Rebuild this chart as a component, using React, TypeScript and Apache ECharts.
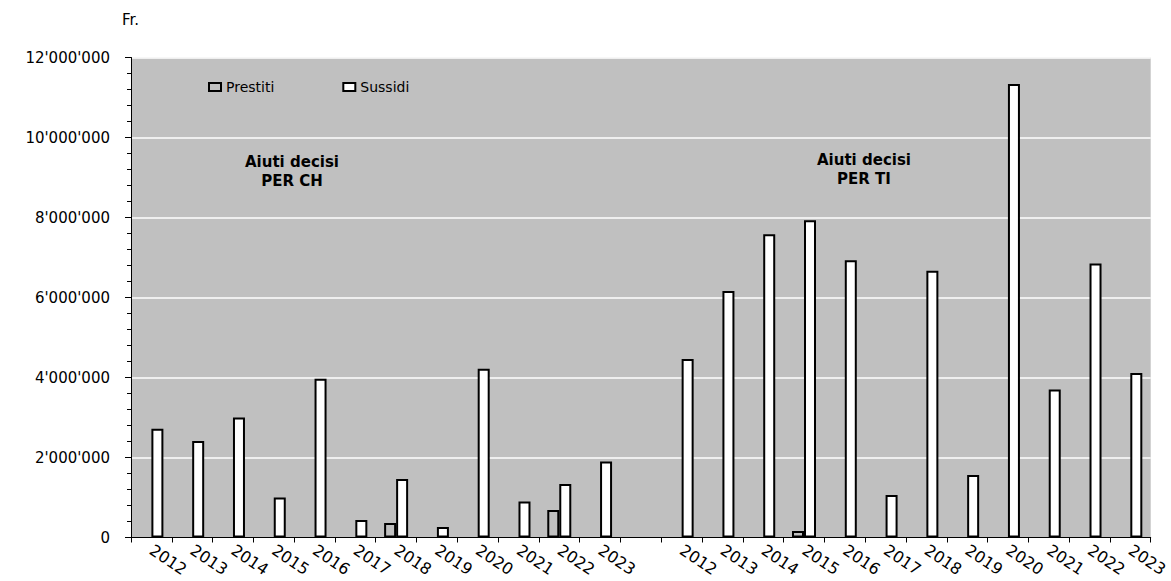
import React, { useEffect, useRef } from "react";
import * as echarts from "echarts";

const years = ["2012", "2013", "2014", "2015", "2016", "2017", "2018", "2019", "2020", "2021", "2022", "2023"];
const gapLabel = [""];
const prestitiCH = [null, null, null, null, null, null, 360000, null, null, null, 690000, null];
const sussidiCH = [2720000, 2410000, 3000000, 1000000, 3970000, 440000, 1460000, 260000, 4220000, 900000, 1340000, 1900000];
const prestitiTI = [null, null, null, 160000, null, null, null, null, null, null, null, null];
const sussidiTI = [4460000, 6160000, 7580000, 7930000, 6930000, 1060000, 6670000, 1560000, 11340000, 3700000, 6850000, 4110000];
const yTicks = { min: 0, max: 12000000, interval: 2000000 };
const seriesNames = ["Prestiti", "Sussidi"];
const unitLabel = "Fr.";
const groupTitles = ["Aiuti decisi\nPER CH", "Aiuti decisi\nPER TI"];

const categories = [...years, ...gapLabel, ...years];
const prestiti = [...prestitiCH, null, ...prestitiTI];
const sussidi = [...sussidiCH, null, ...sussidiTI];

const FONT = "DejaVu Sans";
const fmt = (v: number) => String(v).replace(/\B(?=(\d{3})+(?!\d))/g, "'");

export default function App() {
  const ref = useRef<HTMLDivElement>(null);
  useEffect(() => {
    document.body.style.margin = "0";
    const chart = echarts.init(ref.current!, null, { renderer: "svg" });
    chart.setOption({
      animation: false,
      backgroundColor: "#ffffff",
      textStyle: { fontFamily: FONT, color: "#000" },
      grid: {
        left: 131,
        right: 19,
        top: 57.5,
        bottom: 43.5,
        show: true,
        backgroundColor: "#c0c0c0",
        borderWidth: 0,
      },
      legend: {
        left: 203,
        top: 75,
        itemWidth: 12,
        itemHeight: 8,
        itemGap: 68,
        icon: "rect",
        textStyle: { fontFamily: FONT, fontSize: 14, color: "#000" },
        data: [
          { name: seriesNames[0], itemStyle: { color: "#c0c0c0", borderColor: "#000", borderWidth: 2 } },
          { name: seriesNames[1], itemStyle: { color: "#ffffff", borderColor: "#000", borderWidth: 2 } },
        ],
      },
      graphic: [
        {
          type: "text",
          left: 122,
          top: 12,
          style: { text: unitLabel, fontFamily: FONT, fontSize: 15, fill: "#000" },
        },
        {
          type: "text",
          x: 292,
          y: 152,
          style: {
            text: groupTitles[0],
            fontFamily: FONT,
            fontSize: 15,
            fontWeight: "bold",
            fill: "#000",
            align: "center",
            lineHeight: 19,
          },
        },
        {
          type: "text",
          x: 864,
          y: 150,
          style: {
            text: groupTitles[1],
            fontFamily: FONT,
            fontSize: 15,
            fontWeight: "bold",
            fill: "#000",
            align: "center",
            lineHeight: 19,
          },
        },
      ],
      xAxis: {
        type: "category",
        data: categories,
        boundaryGap: true,
        axisLine: { show: true, lineStyle: { color: "#000", width: 1 } },
        axisTick: { show: true, length: 5, lineStyle: { color: "#000" } },
        axisLabel: {
          interval: 0,
          rotate: -34,
          margin: 11,
          fontFamily: FONT,
          fontSize: 16,
          color: "#000",
        },
        splitLine: { show: false },
      },
      yAxis: {
        type: "value",
        min: yTicks.min,
        max: yTicks.max,
        interval: yTicks.interval,
        axisLine: { show: true, lineStyle: { color: "#000", width: 1 } },
        axisTick: { show: true, length: 6, lineStyle: { color: "#000" } },
        minorTick: { show: true, splitNumber: 5, length: 4, lineStyle: { color: "#000" } },
        axisLabel: {
          formatter: fmt,
          margin: 21,
          fontFamily: FONT,
          fontSize: 15,
          color: "#000",
        },
        splitLine: { show: true, lineStyle: { color: "#ffffff", width: 1.5 } },
      },
      series: [
        {
          name: seriesNames[0],
          type: "bar",
          data: prestiti,
          barWidth: 12,
          barGap: "0%",
          itemStyle: { color: "#c0c0c0", borderColor: "#000", borderWidth: 2 },
        },
        {
          name: seriesNames[1],
          type: "bar",
          data: sussidi,
          barWidth: 12,
          barGap: "0%",
          itemStyle: { color: "#ffffff", borderColor: "#000", borderWidth: 2 },
        },
      ],
    });
    return () => chart.dispose();
  }, []);
  return <div ref={ref} style={{ width: 1171, height: 581 }} />;
}
